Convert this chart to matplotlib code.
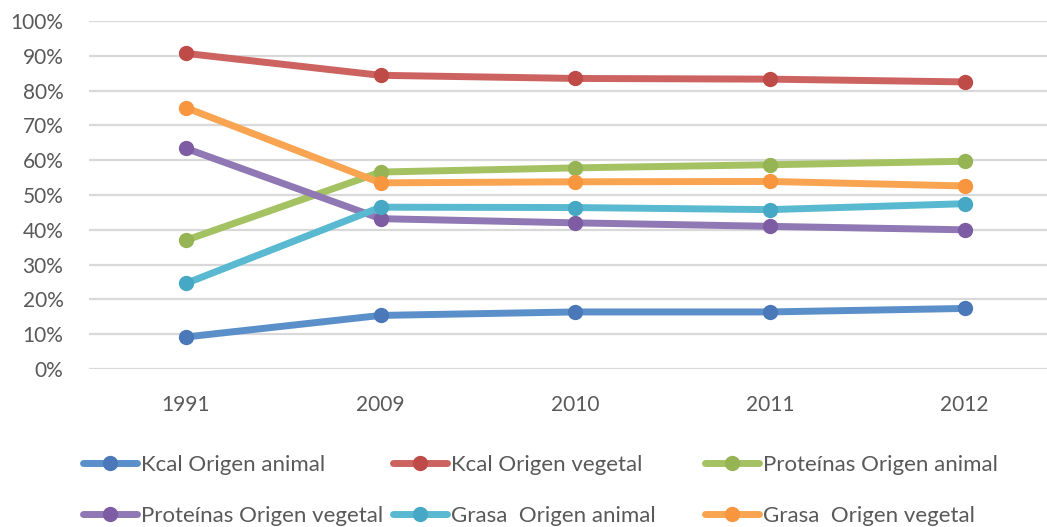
import matplotlib
matplotlib.use("Agg")
import matplotlib.pyplot as plt

# years on the category axis
years = ["1991", "2009", "2010", "2011", "2012"]

# shares in percent
kcal_animal = [9.2, 15.4, 16.4, 16.4, 17.4]
kcal_vegetal = [90.7, 84.4, 83.5, 83.3, 82.5]
prot_animal = [37.0, 56.6, 57.8, 58.7, 59.7]
prot_vegetal = [63.4, 43.2, 42.0, 41.0, 40.0]
grasa_animal = [24.6, 46.5, 46.4, 45.8, 47.5]
grasa_vegetal = [75.1, 53.5, 53.8, 53.9, 52.6]

labels = ["Kcal Origen animal", "Kcal Origen vegetal", "Proteínas Origen animal",
          "Proteínas Origen vegetal", "Grasa  Origen animal", "Grasa  Origen vegetal"]
series = [kcal_animal, kcal_vegetal, prot_animal, prot_vegetal, grasa_animal, grasa_vegetal]
line_colors = ["#5B8FC9", "#CC6360", "#A5C263", "#8F78B3", "#58B9D0", "#F9A451"]
marker_colors = ["#4A78B8", "#BE4B48", "#96B454", "#7E5CA3", "#46A8C4", "#F7963E"]

plt.rcParams['font.family'] = ['Lato', 'DejaVu Sans']
txt = "#595959"

fig = plt.figure(figsize=(10.47, 5.27), dpi=100)
ax = fig.add_axes([88.5 / 1047, 0.2998, 973.5 / 1047, 0.6603])

x = list(range(len(years)))
handles = []
for vals, lc, mc in zip(series, line_colors, marker_colors):
    h, = ax.plot(x, vals, color=lc, lw=5, marker="o", ms=10,
                 markerfacecolor=mc, markeredgecolor=mc, solid_capstyle="round")
    handles.append(h)

ax.set_xlim(-0.5, 4.5)
ax.set_ylim(0, 100)
ax.set_yticks(range(0, 101, 10))
ax.set_yticklabels([f"{v}%" for v in range(0, 101, 10)], va="center_baseline")
ax.set_xticks(x)
ax.set_xticklabels(years)
ax.yaxis.grid(True, color="#D9D9D9", lw=1.6)
ax.set_axisbelow(True)
for s in ax.spines.values():
    s.set_visible(False)
ax.tick_params(axis="both", length=0, colors=txt, labelsize=15)
ax.tick_params(axis="y", pad=18)
ax.tick_params(axis="x", pad=19)

# legend entries placed like the original grid (3 columns, 2 rows)
col_x = [83, 393, 705]
row_y = [465, 516]
for i, (h, lab) in enumerate(zip(handles, labels)):
    cx = col_x[i % 3]
    cy = row_y[i // 3]
    fig.legend([h], [lab], loc="center left",
               bbox_to_anchor=(cx / 1047, (527 - cy) / 527),
               frameon=False, borderpad=0, borderaxespad=0,
               handlelength=2.45, handletextpad=0.18,
               prop={"size": 16}, labelcolor=txt)

fig.savefig("out.png", dpi=100)
